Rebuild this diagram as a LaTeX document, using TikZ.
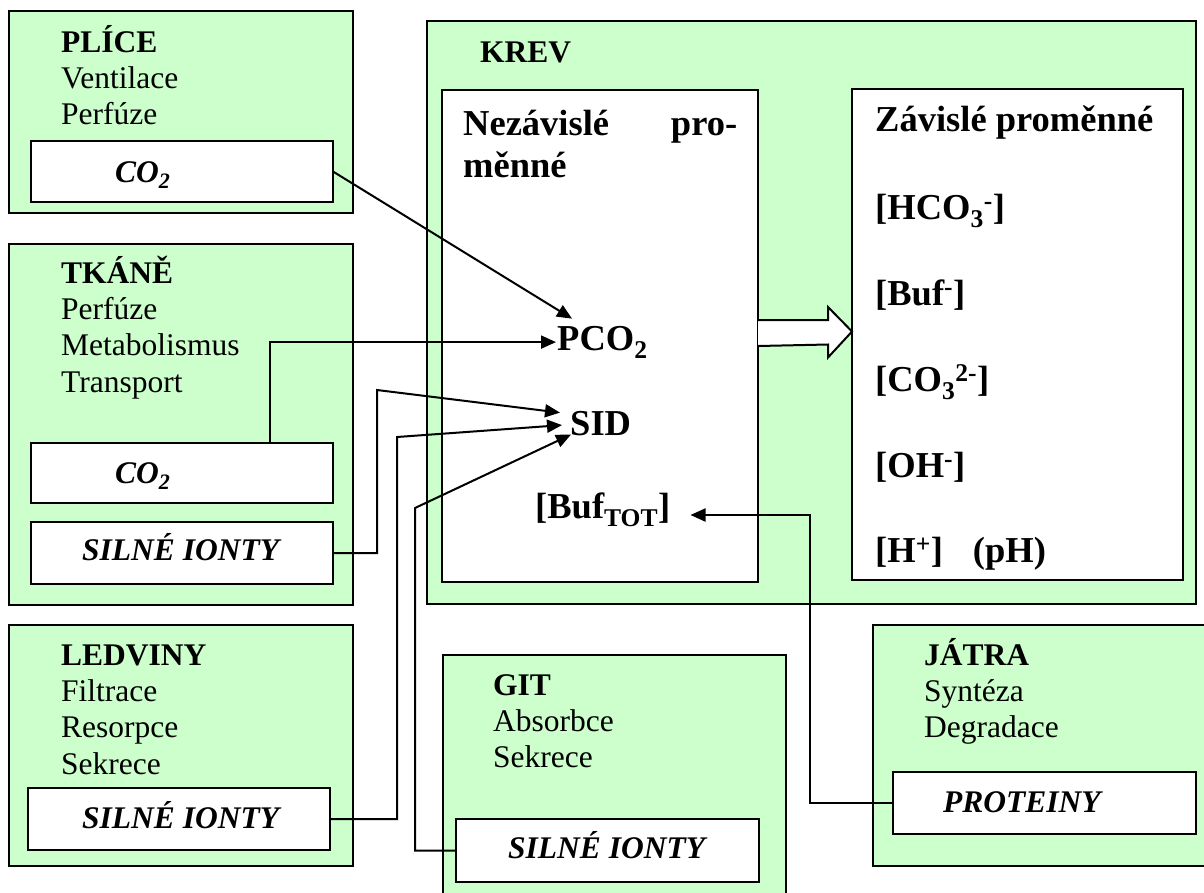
\documentclass[tikz,border=0pt]{standalone}
\usepackage{fontspec}
\setmainfont{Liberation Serif}
\usetikzlibrary{arrows.meta,calc}
\definecolor{boxgreen}{HTML}{CCFFCC}
\begin{document}
\begin{tikzpicture}[x=1pt,y=-1pt,
  gbox/.style={draw=black, fill=boxgreen, line width=2.2pt, anchor=north west, inner sep=0pt, outer sep=0pt},
  wbox/.style={draw=black, fill=white, line width=2.2pt, anchor=north west, inner sep=0pt, outer sep=0pt},
  txt/.style={anchor=base west, inner sep=0pt, font=\fontsize{31.5}{36.4}\selectfont, align=left, text width=300pt},
  lbl/.style={anchor=base west, inner sep=0pt, font=\fontsize{31.5}{36.4}\selectfont\bfseries\itshape},
  hdr/.style={anchor=base west, inner sep=0pt, font=\fontsize{31.5}{36.4}\selectfont\bfseries},
  big/.style={anchor=base west, inner sep=0pt, font=\fontsize{36.5}{42}\selectfont\bfseries},
  conn/.style={line width=2pt, -{Triangle[length=15pt,width=13pt]}},
  hollow/.style={line width=2pt, fill=white}
]
\useasboundingbox (0,0) rectangle (1204,892);
\clip (0,0) rectangle (1204,892);

% outer green boxes
\node[gbox, minimum width=344pt, minimum height=202pt] (plice) at (9,11) {};
\node[gbox, minimum width=344pt, minimum height=361pt] (tkane) at (9,244) {};
\node[gbox, minimum width=344pt, minimum height=241pt] (ledv) at (9,625) {};
\node[gbox, minimum width=769pt, minimum height=583pt] (krev) at (427,21) {};
\node[gbox, minimum width=343pt, minimum height=270pt] (git) at (443,655) {};
\node[gbox, minimum width=360pt, minimum height=241pt] (jatra) at (873,625) {};

% white inner boxes
\node[wbox, minimum width=302pt, minimum height=61pt] (plco2) at (31,141) {};
\node[wbox, minimum width=302pt, minimum height=60pt] (tkco2) at (31,443) {};
\node[wbox, minimum width=302pt, minimum height=62pt] (tksi) at (31,522) {};
\node[wbox, minimum width=302pt, minimum height=62pt] (ledsi) at (28,788) {};
\node[wbox, minimum width=316pt, minimum height=492pt] (nezbox) at (442,90) {};
\node[wbox, minimum width=331pt, minimum height=491pt] (zavbox) at (852,89) {};
\node[wbox, minimum width=303pt, minimum height=63pt] (gitsi) at (456,819) {};
\node[wbox, minimum width=303pt, minimum height=62pt] (jatprot) at (893,772) {};

% texts in organ boxes
\node[txt] (plicet) at (61,52) {\textbf{PLÍCE}\\Ventilace\\Perfúze};
\node[lbl] (plco2t) at (115,182) {CO\textsubscript{2}};
\node[txt] (tkanet) at (61,283) {\textbf{TKÁNĚ}\\Perfúze\\Metabolismus\\Transport};
\node[lbl] (tkco2t) at (115,483) {CO\textsubscript{2}};
\node[lbl] (tksit) at (82,560) {SILNÉ IONTY};
\node[txt] (ledvt) at (61,665) {\textbf{LEDVINY}\\Filtrace\\Resorpce\\Sekrece};
\node[lbl] (ledsit) at (82,828) {SILNÉ IONTY};
\node[txt] (gitt) at (493,695) {\textbf{GIT}\\Absorbce\\Sekrece};
\node[lbl] (gitsit) at (508,858) {SILNÉ IONTY};
\node[txt] (jatrat) at (924,665) {\textbf{JÁTRA}\\Syntéza\\Degradace};
\node[lbl] (jatprott) at (943,812) {PROTEINY};

% blood box texts
\node[hdr] (krevt) at (480,62) {KREV};
\node[big, text width=274pt, align=left] (nezt) at (463,135) {Nezávislé\hfill pro-\\měnné};
\node[big] (zavt) at (875,131) {Závislé proměnné};
\node[big] (hco3) at (875,219) {[HCO\textsubscript{3}\textsuperscript{-}]};
\node[big] (bufm) at (875,305) {[Buf\textsuperscript{-}]};
\node[big] (co3) at (875,391) {[CO\textsubscript{3}\textsuperscript{2-}]};
\node[big] (ohm) at (875,477) {[OH\textsuperscript{-}]};
\node[big] (hplus) at (875,562) {[H\textsuperscript{+}]\hspace{30pt}(pH)};
\node[big] (pco2) at (557,350) {PCO\textsubscript{2}};
\node[big] (sid) at (570,435) {SID};
\node[big] (buftot) at (535,518) {[Buf\textsubscript{TOT}]};

% bend points
\coordinate (tkbend) at (377,390);
\coordinate (ledbend) at (397,437);
\coordinate (gitbend) at (415,508);
\coordinate (jatbend) at (810,515);

% connectors
\draw[conn] (plco2.east) -- ([xshift=15pt,yshift=7pt]pco2.north west);
\draw[conn] ([xshift=88pt]tkco2.north) |- ([xshift=-1pt]pco2.west);
\draw[conn] (tksi.east) -| (tkbend) -- ([xshift=-10pt,yshift=-2pt]sid.north west);
\draw[conn] (ledsi.east) -| (ledbend) -- ([xshift=-8pt,yshift=-2pt]sid.west);
\draw[conn] (gitsi.west) -| (gitbend) -- ([xshift=1pt,yshift=1pt]sid.south west);
\draw[conn] (jatprot.west) -| (jatbend) -- ([xshift=20pt,yshift=3pt]buftot.base east);

% hollow block arrow from independent to dependent variables
\filldraw[hollow] ($(nezbox.east)+(0,-16)$) -- ++(70,0) -- ++(0,-13) -- ($(zavbox.west)+(0,-3)$)
  -- ++(-24,26) -- ++(0,-13) -- ($(nezbox.east)+(0,10)$);
\end{tikzpicture}
\end{document}
